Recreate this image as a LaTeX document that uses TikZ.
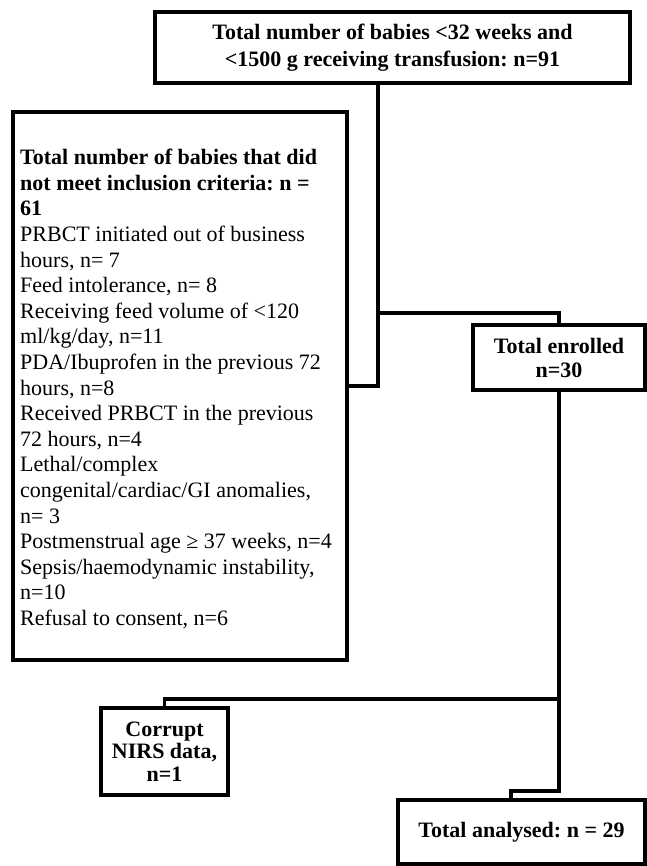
\documentclass[tikz,border=0pt]{standalone}
\usepackage{fontspec}
\setmainfont{Liberation Serif}
\frenchspacing
\begin{document}
\frenchspacing
\tikzset{
  box/.style={draw, line width=3.5pt, inner sep=0pt, align=center,
    font=\bfseries\fontsize{22}{24}\selectfont},
  conn/.style={line width=3.5pt},
}
\begin{tikzpicture}[x=1pt,y=-1pt]
\useasboundingbox[fill=white] (0,0) rectangle (646,866);
% boxes
\node[box, minimum width=475pt, minimum height=71pt,
  font=\bfseries\fontsize{22}{27}\selectfont] (top) at (392.5,47.5)
  {Total number of babies <32 weeks and\\<1500 g receiving transfusion: n=91};
\node[draw, line width=3.5pt, inner sep=0pt, minimum width=334pt,
  minimum height=548pt] (lbox) at (180,386) {};
\node[anchor=north west, inner sep=0pt, align=left,
  font=\fontsize{22}{25.6}\selectfont] (ltext) at (20,149)
  {\textbf{Total number of babies that did}\\
   \textbf{not meet inclusion criteria: n =}\\
   \textbf{61}\\
   PRBCT initiated out of business\\
   hours, n= 7\\
   Feed intolerance, n= 8\\
   Receiving feed volume of <120\\
   ml/kg/day, n=11\\
   PDA/Ibuprofen in the previous 72\\
   hours, n=8\\
   Received PRBCT in the previous\\
   72 hours, n=4\\
   Lethal/complex\\
   congenital/cardiac/GI anomalies,\\
   n= 3\\
   Postmenstrual age ≥ 37 weeks, n=4\\
   Sepsis/haemodynamic instability,\\
   n=10\\
   Refusal to consent, n=6};
\node[box, minimum width=172pt, minimum height=65pt] (enr) at (559,357.5)
  {Total enrolled\\n=30};
\node[box, minimum width=127pt, minimum height=87pt,
  font=\bfseries\fontsize{22}{22.5}\selectfont] (cor) at (164.5,751.5)
  {Corrupt\\NIRS data,\\n=1};
\node[box, minimum width=247pt, minimum height=64pt] (ana) at (521.5,832)
  {Total analysed: n = 29};
% junctions
\coordinate (j1) at (378,313);
\coordinate (j2) at (378,386);
\coordinate (j3) at (559,699);
\coordinate (j4) at (559,791);
\coordinate (j5) at (511,791);
% connectors
\draw[conn] (top.south -| j1) -- (j2) -- (j2 -| lbox.east);
\draw[conn] (j1) -| (enr.north);
\draw[conn] (enr.south) -- (j4) -- (j5) -- (j5 |- ana.north);
\draw[conn] (j3) -| (cor.north);
\end{tikzpicture}
\end{document}
